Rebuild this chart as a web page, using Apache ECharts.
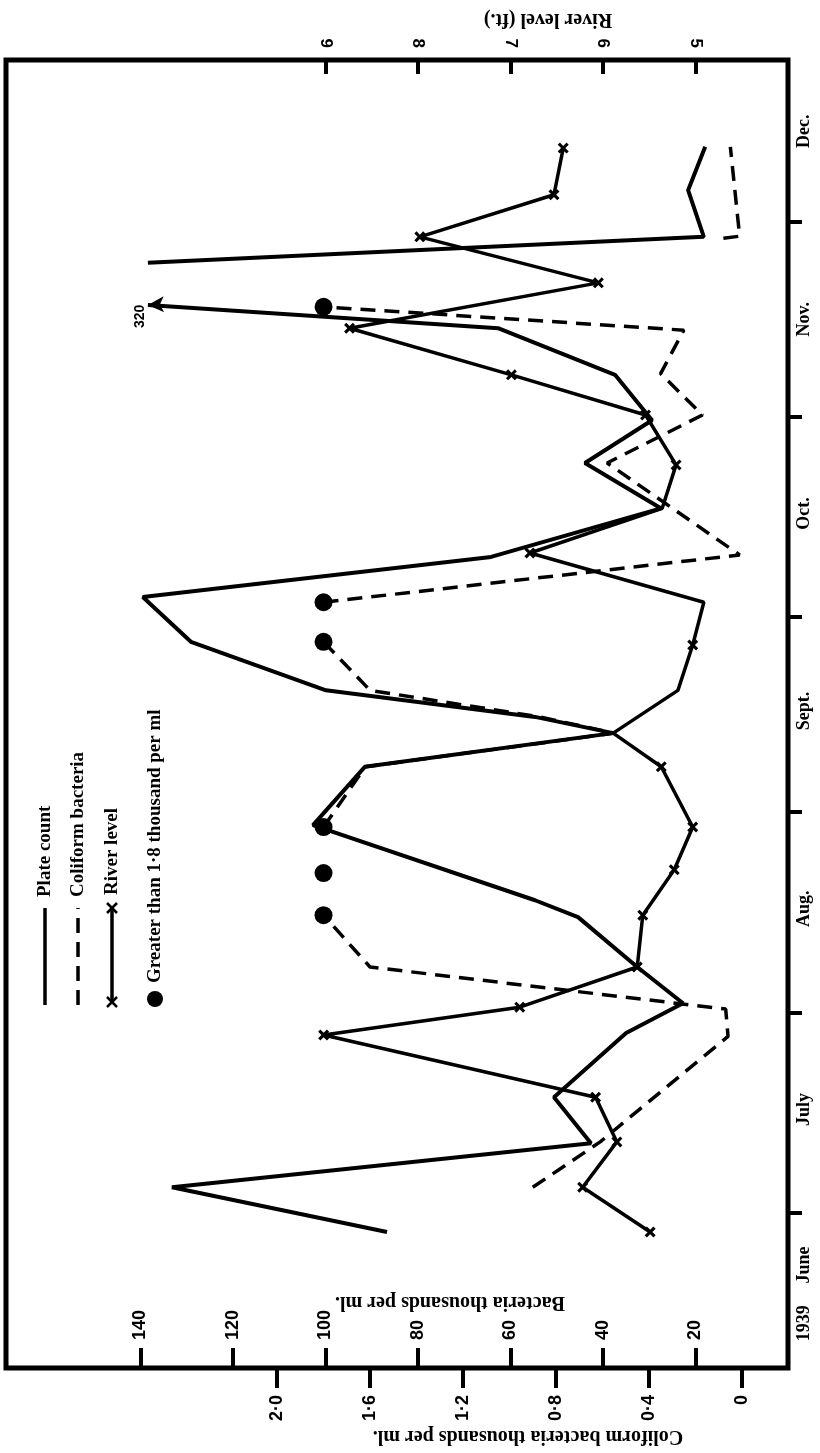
<!DOCTYPE html>
<html>
<head>
<meta charset="utf-8">
<script src="https://cdn.jsdelivr.net/npm/echarts@6/dist/echarts.min.js"></script>
<style>
  html, body { margin: 0; padding: 0; background: #fff; }
  #chart { width: 820px; height: 1453px; }
</style>
</head>
<body>
<div id="chart"></div>
<script>
// time runs in days counted from 1 June 1939
var monthStartDays = [30, 61, 92, 122, 153, 183];
var monthLabelDays = [13, 22, 46, 77, 107.5, 138, 168, 197];
var monthLabels = ["1939", "June", "July", "Aug.", "Sept.", "Oct.", "Nov.", "Dec."];

var bacteriaTicks = [20, 40, 60, 80, 100, 120, 140];
var coliformTicks = [0, 0.4, 0.8, 1.2, 1.6, 2.0];
var riverTicks = [5, 6, 7, 8, 9];

// plate count, thousands per ml (null = break after the 320 point)
var plateDays = [27.1, 34.0, 40.8, 47.9, 57.8, 62.4, 68.0, 75.7, 78.3, 89.9, 98.9, 104.1, 106.6,
  110.7, 118.2, 125.1, 131.3, 138.8, 145.8, 152.4, 159.4, 166.6, 170.2, 173.5, 176.7, 180.7, 187.9, 194.6];
var plateValues = [86.7, 133.2, 42.6, 50.6, 35.0, 22.7, 32.6, 45.4, 54.7, 102.7, 91.5, 37.8, 54.7,
  99.9, 129.1, 139.5, 64.2, 27.5, 43.9, 29.4, 37.4, 62.7, 138.4, null, 138.4, 18.2, 21.6, 17.9];
var plateOffScale = 22; // index of the point marked "320"

// coliform bacteria, thousands per ml ("over" = greater than 1.8, null = break)
var coliformDays = [34.0, 41.0, 57.3, 61.5, 68.0, 76.0, 82.5, 89.6, 98.9, 104.1, 106.6, 110.7,
  118.2, 124.3, 131.6, 145.8, 153.2, 159.6, 166.3, 169.9, 175, 180.5, 180.8, 194.6];
var coliformValues = [0.90, 0.61, 0.06, 0.07, 1.60, "over", "over", "over", 1.62, 0.55, 0.87, 1.60,
  "over", "over", 0.01, 0.58, 0.17, 0.35, 0.25, "over", null, 0.08, 0.01, 0.05];

// river level, ft.
var riverDays = [27.1, 34.0, 41.0, 47.9, 57.5, 61.8, 68.0, 76.0, 83.0, 89.6, 98.9, 104.1, 110.7,
  117.7, 124.3, 131.9, 138.8, 145.5, 153.2, 159.4, 166.6, 173.6, 180.7, 187.2, 194.4];
var riverLevels = [5.49, 6.22, 5.85, 6.08, 9.02, 6.90, 5.63, 5.57, 5.23, 5.03, 5.37, 5.89, 5.19,
  5.03, 4.91, 6.79, 5.36, 5.21, 5.54, 6.99, 8.74, 6.05, 7.98, 6.53, 6.43];
var riverMarked = [1, 1, 1, 1, 1, 1, 1, 1, 1, 1, 1, 0, 0, 1, 0, 1, 0, 1, 1, 1, 1, 1, 1, 1, 1];

var numFont = "Liberation Sans";
var textFont = "Liberation Serif";
var crossPath = "path://M2,0L5,3L8,0L10,2L7,5L10,8L8,10L5,7L2,10L0,8L3,5L0,2Z";

var plateData = [];
for (var i = 0; i < plateDays.length; i++) {
  if (plateValues[i] === null) {
    plateData.push({ value: ["-", "-"] });
  } else if (i === plateOffScale) {
    plateData.push({
      value: [plateValues[i], plateDays[i]],
      symbol: "arrow",
      symbolSize: [12, 16],
      symbolRotate: 92,
      label: {
        show: true, formatter: "320", position: "left", rotate: 90, distance: 7,
        fontFamily: numFont, fontWeight: "bold", fontSize: 14, color: "#000"
      }
    });
  } else {
    plateData.push({ value: [plateValues[i], plateDays[i]], symbol: "none" });
  }
}

var coliformData = [];
for (var j = 0; j < coliformDays.length; j++) {
  var v = coliformValues[j];
  if (v === null) {
    coliformData.push({ value: ["-", "-"] });
  } else if (v === "over") {
    if (j > 0 && coliformValues[j - 1] === "over") {
      coliformData.push({ value: ["-", "-"] });
    }
    coliformData.push({ value: [1.8, coliformDays[j]], symbol: "circle", symbolSize: 18 });
  } else {
    coliformData.push({ value: [v, coliformDays[j]], symbol: "none" });
  }
}

var riverData = riverDays.map(function (d, k) {
  return riverMarked[k]
    ? { value: [riverLevels[k], d] }
    : { value: [riverLevels[k], d], symbol: "none" };
});

var chart = echarts.init(document.getElementById("chart"));

var option = {
  animation: false,
  backgroundColor: "#fff",
  grid: {
    left: 6, right: 32, top: 60, bottom: 85,
    show: true, borderColor: "#000", borderWidth: 5, backgroundColor: "transparent"
  },
  xAxis: [
    {
      // bacteria thousands per ml, 0 at right
      type: "value", position: "bottom", inverse: true, min: 0, max: 169.08,
      axisLine: { show: false },
      splitLine: { show: false },
      axisTick: {
        customValues: bacteriaTicks, inside: true, length: 20,
        lineStyle: { color: "#000", width: 4 }
      },
      axisLabel: {
        customValues: bacteriaTicks, inside: true, margin: 28, rotate: 90,
        fontFamily: numFont, fontWeight: "bold", fontSize: 18, color: "#000"
      }
    },
    {
      // coliform bacteria thousands per ml
      type: "value", position: "bottom", inverse: true, min: -0.198, max: 3.166,
      axisLine: { show: false },
      splitLine: { show: false },
      axisTick: {
        customValues: coliformTicks, length: 20,
        lineStyle: { color: "#000", width: 4 }
      },
      axisLabel: {
        customValues: coliformTicks, margin: 27, rotate: 90,
        fontFamily: numFont, fontWeight: "bold", fontSize: 18, color: "#000",
        formatter: function (val) {
          return val === 0 ? "0" : val.toFixed(1).replace(".", "\u00b7");
        }
      }
    },
    {
      // river level, ft.
      type: "value", position: "top", inverse: true, min: 4, max: 12.454,
      axisLine: { show: false },
      splitLine: { show: false },
      axisTick: {
        customValues: riverTicks, inside: true, length: 14,
        lineStyle: { color: "#000", width: 4 }
      },
      axisLabel: {
        customValues: riverTicks, margin: 12, rotate: 90,
        fontFamily: numFont, fontWeight: "bold", fontSize: 17, color: "#000"
      }
    }
  ],
  yAxis: [
    {
      type: "value", position: "right", min: 6.1, max: 208,
      axisLine: { show: false },
      splitLine: { show: false },
      axisTick: {
        customValues: monthStartDays, length: 14,
        lineStyle: { color: "#000", width: 4 }
      },
      axisLabel: {
        customValues: monthLabelDays, margin: 7, rotate: 90,
        fontFamily: textFont, fontWeight: "bold", fontSize: 18, color: "#000",
        formatter: function (val) {
          var idx = monthLabelDays.indexOf(val);
          return idx >= 0 ? monthLabels[idx] : "";
        }
      }
    }
  ],
  series: [
    {
      name: "Plate count", type: "line", xAxisIndex: 0, yAxisIndex: 0,
      data: plateData, connectNulls: false, symbol: "none",
      itemStyle: { color: "#000" },
      lineStyle: { color: "#000", width: 4 }, z: 3
    },
    {
      name: "Coliform bacteria", type: "line", xAxisIndex: 1, yAxisIndex: 0,
      data: coliformData, connectNulls: false, symbol: "none",
      itemStyle: { color: "#000" },
      lineStyle: { color: "#000", width: 3.5, type: [15, 9] }, z: 2
    },
    {
      name: "River level", type: "line", xAxisIndex: 2, yAxisIndex: 0,
      data: riverData, symbol: crossPath, symbolSize: 11,
      itemStyle: { color: "#000" },
      lineStyle: { color: "#000", width: 3.5 }, z: 4
    }
  ],
  graphic: [
    {
      type: "text", x: 450, y: 1302, rotation: Math.PI,
      style: { text: "Bacteria thousands per ml.", font: "bold 20px " + textFont,
        fill: "#000", align: "center", verticalAlign: "middle" }
    },
    {
      type: "text", x: 528, y: 1436, rotation: Math.PI,
      style: { text: "Coliform bacteria thousands per ml.", font: "bold 20px " + textFont,
        fill: "#000", align: "center", verticalAlign: "middle" }
    },
    {
      type: "text", x: 548, y: 19, rotation: Math.PI,
      style: { text: "River level (ft.)", font: "bold 20px " + textFont,
        fill: "#000", align: "center", verticalAlign: "middle" }
    },
    {
      // legend, written sideways like the rest of the page
      type: "group", x: 28, y: 1005, rotation: Math.PI / 2,
      children: [
        { type: "line", shape: { x1: 0, y1: 17, x2: 97, y2: 17 }, style: { stroke: "#000", lineWidth: 3.5 } },
        { type: "text", x: 108, y: 17, style: { text: "Plate count", font: "bold 19px " + textFont, fill: "#000", verticalAlign: "middle" } },
        { type: "line", shape: { x1: 0, y1: 50, x2: 97, y2: 50 }, style: { stroke: "#000", lineWidth: 3.5, lineDash: [15, 9] } },
        { type: "text", x: 108, y: 50, style: { text: "Coliform bacteria", font: "bold 19px " + textFont, fill: "#000", verticalAlign: "middle" } },
        { type: "line", shape: { x1: 3, y1: 84, x2: 95, y2: 84 }, style: { stroke: "#000", lineWidth: 3.5 } },
        { type: "line", shape: { x1: -2, y1: 79, x2: 8, y2: 89 }, style: { stroke: "#000", lineWidth: 2.5 } },
        { type: "line", shape: { x1: -2, y1: 89, x2: 8, y2: 79 }, style: { stroke: "#000", lineWidth: 2.5 } },
        { type: "line", shape: { x1: 92, y1: 79, x2: 102, y2: 89 }, style: { stroke: "#000", lineWidth: 2.5 } },
        { type: "line", shape: { x1: 92, y1: 89, x2: 102, y2: 79 }, style: { stroke: "#000", lineWidth: 2.5 } },
        { type: "text", x: 110, y: 84, style: { text: "River level", font: "bold 19px " + textFont, fill: "#000", verticalAlign: "middle" } },
        { type: "circle", shape: { cx: 6, cy: 127, r: 8 }, style: { fill: "#000" } },
        { type: "text", x: 22, y: 127, style: { text: "Greater than 1\u00b78 thousand per ml", font: "bold 19px " + textFont, fill: "#000", verticalAlign: "middle" } }
      ]
    }
  ]
};

chart.setOption(option);
window.addEventListener("resize", function () {
  chart.resize();
});
</script>
</body>
</html>
